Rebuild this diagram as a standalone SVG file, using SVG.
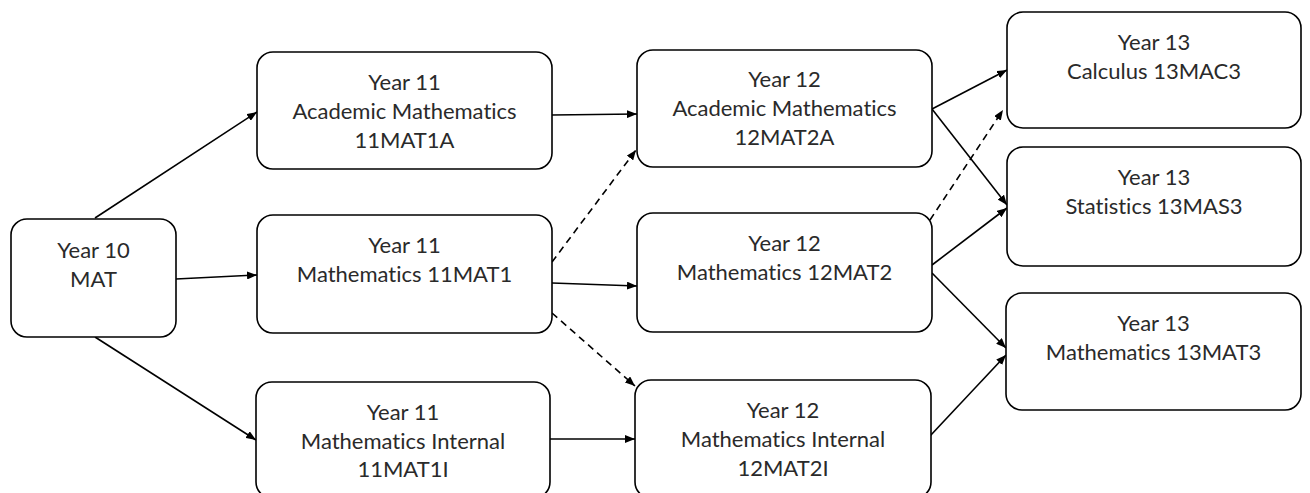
<svg xmlns="http://www.w3.org/2000/svg" width="1310" height="493" viewBox="0 0 1310 493">
<defs>
<marker id="ah" viewBox="0 0 10 8" refX="10" refY="4" markerWidth="10" markerHeight="8" markerUnits="userSpaceOnUse" orient="auto">
<path d="M0,0 L10,4 L0,8 Z" fill="#000"/>
</marker>
<style>
.box{fill:#fff;stroke:#000;stroke-width:1.6}
.t{font-family:Lato,"Liberation Sans",sans-serif;font-size:22px;fill:#2a2a2a;text-anchor:middle;font-variant-ligatures:none;font-feature-settings:"liga" 0,"dlig" 0}
.c{fill:none;stroke:#000;stroke-width:1.6;marker-end:url(#ah)}
.d{stroke-dasharray:7 5}
</style>
</defs>
<rect width="1310" height="493" fill="#fff"/>
<g id="connectors">
<line class="c" x1="95" y1="218" x2="257" y2="112"/>
<line class="c" x1="176" y1="279" x2="257" y2="275"/>
<line class="c" x1="95" y1="337" x2="256" y2="440"/>
<line class="c" x1="552" y1="115" x2="637" y2="114"/>
<line class="c d" x1="552" y1="262" x2="636" y2="150"/>
<line class="c" x1="552" y1="283" x2="637" y2="286"/>
<line class="c d" x1="552" y1="313" x2="635" y2="386"/>
<line class="c" x1="550" y1="439" x2="635" y2="439"/>
<line class="c" x1="932" y1="109" x2="1007" y2="70"/>
<line class="c" x1="932" y1="109" x2="1007" y2="205"/>
<line class="c d" x1="930" y1="220" x2="1003" y2="110"/>
<line class="c" x1="932" y1="265" x2="1007" y2="208"/>
<line class="c" x1="932" y1="273" x2="1006" y2="348"/>
<line class="c" x1="930" y1="436" x2="1006" y2="355"/>
</g>
<g id="y10">
<rect class="box" x="11" y="219" width="165" height="118" rx="16"/>
<text class="t" x="93.5" y="258">Year 10</text>
<text class="t" x="93.5" y="287">MAT</text>
</g>
<g id="y11a">
<rect class="box" x="257" y="52" width="295" height="117" rx="16"/>
<text class="t" x="404.5" y="90">Year 11</text>
<text class="t" x="404.5" y="119">Academic Mathematics</text>
<text class="t" x="404.5" y="148">11MAT1A</text>
</g>
<g id="y11m">
<rect class="box" x="257" y="215" width="295" height="118" rx="16"/>
<text class="t" x="404.5" y="253">Year 11</text>
<text class="t" x="404.5" y="282">Mathematics 11MAT1</text>
</g>
<g id="y11i">
<rect class="box" x="256" y="382" width="294" height="116" rx="16"/>
<text class="t" x="403" y="420">Year 11</text>
<text class="t" x="403" y="449">Mathematics Internal</text>
<text class="t" x="403" y="477">11MAT1I</text>
</g>
<g id="y12a">
<rect class="box" x="637" y="50" width="295" height="117" rx="16"/>
<text class="t" x="784.5" y="87">Year 12</text>
<text class="t" x="784.5" y="116">Academic Mathematics</text>
<text class="t" x="784.5" y="145">12MAT2A</text>
</g>
<g id="y12m">
<rect class="box" x="637" y="213" width="295" height="119" rx="16"/>
<text class="t" x="784.5" y="251">Year 12</text>
<text class="t" x="784.5" y="280">Mathematics 12MAT2</text>
</g>
<g id="y12i">
<rect class="box" x="635" y="380" width="296" height="118" rx="16"/>
<text class="t" x="783" y="418">Year 12</text>
<text class="t" x="783" y="447">Mathematics Internal</text>
<text class="t" x="783" y="476">12MAT2I</text>
</g>
<g id="y13c">
<rect class="box" x="1007" y="12" width="294" height="116" rx="16"/>
<text class="t" x="1154" y="50">Year 13</text>
<text class="t" x="1154" y="79">Calculus 13MAC3</text>
</g>
<g id="y13s">
<rect class="box" x="1007" y="147" width="294" height="119" rx="16"/>
<text class="t" x="1154" y="185">Year 13</text>
<text class="t" x="1154" y="214">Statistics 13MAS3</text>
</g>
<g id="y13m">
<rect class="box" x="1006" y="293" width="295" height="117" rx="16"/>
<text class="t" x="1153.5" y="331">Year 13</text>
<text class="t" x="1153.5" y="360">Mathematics 13MAT3</text>
</g>
</svg>
